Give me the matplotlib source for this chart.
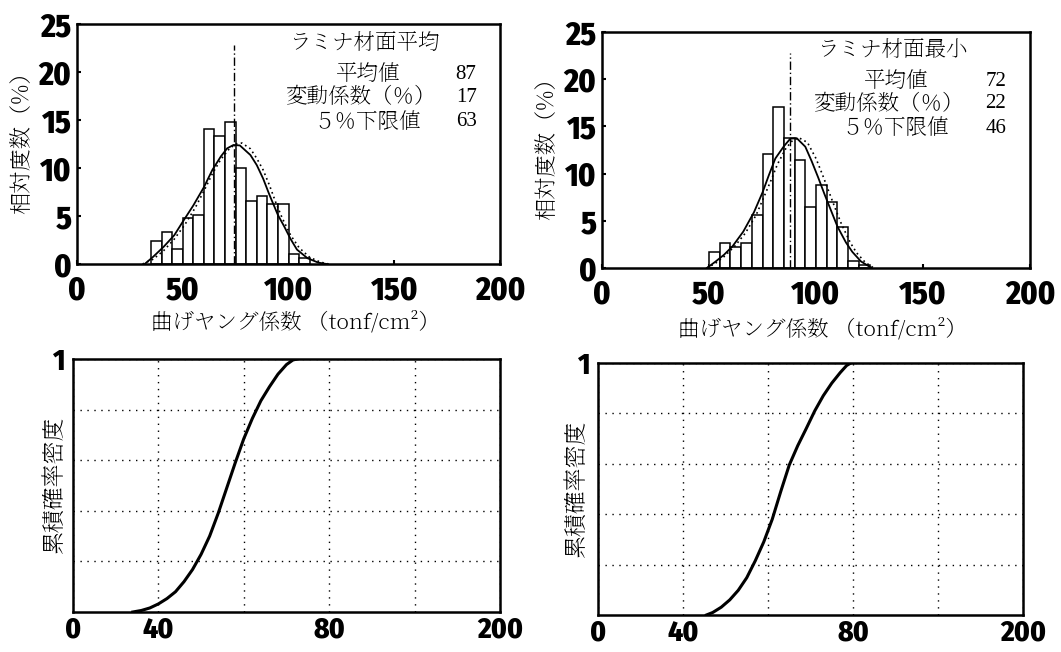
import matplotlib
matplotlib.use('Agg')
import matplotlib.pyplot as plt
from matplotlib import font_manager

# ---- data ----
# histogram: left edge of each 5-unit bin and relative frequency (%)
bins_mean = [35, 40, 45, 50, 55, 60, 65, 70, 75, 80, 85, 90, 95, 100, 105]
freq_mean = [2.4, 3.3, 1.6, 4.75, 5.1, 14.1, 13.3, 14.75, 10.0, 6.55, 7.1, 6.3, 6.3, 1.0, 0.6]
bins_min = [50, 55, 60, 65, 70, 75, 80, 85, 90, 95, 100, 105, 110, 115, 120]
freq_min = [1.7, 2.7, 2.2, 2.6, 5.6, 12.1, 17.1, 13.8, 11.4, 6.5, 8.8, 7.0, 4.3, 0.7, 0.3]

# fitted curves (solid and dotted)
fit_mean_x = [32, 36, 41, 46, 50, 55, 60, 64, 68, 71, 74, 77, 82, 85, 88, 91, 95, 98, 101, 104, 109, 114, 118]
fit_mean_y = [0, 0.75, 1.8, 3.0, 4.4, 6.1, 8.0, 9.8, 11.2, 12.05, 12.4, 12.35, 11.35, 10.3, 8.9, 7.2, 5.1, 3.9, 2.6, 1.5, 0.6, 0.15, 0]
dot_mean_x = [31, 36, 41, 46, 51, 56, 60, 64, 68, 72, 75, 78, 82, 85, 88, 91, 94, 97, 101, 105, 110, 115, 119]
dot_mean_y = [0, 0.5, 1.4, 2.6, 4.1, 5.9, 7.6, 9.4, 10.9, 12.0, 12.5, 12.6, 12.0, 11.0, 9.8, 8.2, 6.4, 4.8, 3.0, 1.7, 0.7, 0.2, 0]
fit_min_x = [49, 53, 57, 61, 66, 71, 75, 78, 81, 85, 88, 91, 95, 98, 101, 104, 107, 110, 114, 117, 121, 126]
fit_min_y = [0, 0.67, 1.4, 2.3, 3.85, 5.9, 8.0, 9.85, 11.6, 12.9, 13.7, 13.75, 12.85, 11.3, 9.6, 7.8, 6.1, 4.4, 2.7, 1.7, 0.7, 0]
dot_min_x = [49, 53, 57, 62, 67, 72, 76, 79, 82, 86, 89, 92, 96, 100, 103, 106, 109, 112, 116, 119, 123, 127]
dot_min_y = [0, 0.5, 1.2, 2.3, 3.7, 5.6, 7.7, 9.3, 11.0, 12.7, 13.5, 13.8, 13.3, 11.6, 9.9, 8.1, 6.3, 4.6, 2.7, 1.6, 0.6, 0]

# mean line position
mean_line = [74, 88]

# cumulative curves
cdf_mean_x = [28, 32, 36, 40, 44, 48, 52, 56, 60, 64, 68, 72, 76, 80, 84, 88, 92, 96, 100, 103, 105]
cdf_mean_y = [0, 0.006, 0.016, 0.032, 0.053, 0.08, 0.12, 0.168, 0.228, 0.30, 0.39, 0.49, 0.59, 0.685,
              0.765, 0.835, 0.89, 0.94, 0.978, 0.996, 1.0]
cdf_min_x = [51, 54, 58, 62, 66, 70, 74, 78, 82, 86, 90, 94, 98, 102, 106, 110, 114, 117, 119]
cdf_min_y = [0, 0.01, 0.031, 0.06, 0.098, 0.148, 0.215, 0.29, 0.38, 0.49, 0.595, 0.672, 0.74, 0.81,
             0.87, 0.92, 0.962, 0.99, 1.0]

# text
titles = ['ラミナ材面平均', 'ラミナ材面最小']
stat_names = ['平均値', '変動係数（％）', '５％下限値']
stat_values = [['87', '17', '63'], ['72', '22', '46']]
hist_ticks = [0, 50, 100, 150, 200]
hist_yticks = [0, 5, 10, 15, 20, 25]
cdf_ticks = [0, 40, 80, 120, 160, 200]
cdf_ticklabels = ['0', '40', '', '80', '', '200']
cdf_yticks = [0.2, 0.4, 0.6, 0.8, 1.0]
cdf_yticklabels = ['', '', '', '', '1']

W, H = 1061, 652

installed = {f.name for f in font_manager.fontManager.ttflist}


def pick(prefs):
    found = [p for p in prefs if p in installed]
    return found[:1] + ['DejaVu Sans']


JP = pick(['Noto Serif JP', 'Noto Serif CJK JP', 'Shippori Mincho', 'Zen Old Mincho',
           'Sawarabi Mincho', 'Noto Sans CJK JP'])
NUM = pick(['Fira Sans Condensed', 'Liberation Sans Narrow', 'Roboto Condensed', 'Oswald'])
SERIF = pick(['Liberation Serif', 'DejaVu Serif'])


def frac(x0, y0, x1, y1):
    # pixel box (top-left origin) -> figure fraction rect
    return [x0 / W, 1 - y1 / H, (x1 - x0) / W, (y1 - y0) / H]


def style_ticks(ax, size):
    for lbl in ax.get_xticklabels() + ax.get_yticklabels():
        lbl.set_fontfamily(NUM)
        lbl.set_fontweight(800)
        lbl.set_fontsize(size)


def histogram(ax, bins, freq, fx, fy, dx, dy, m, title, values, ylab_x, xlab_y):
    ax.bar(bins, freq, width=5, align='edge', facecolor='white', edgecolor='black', linewidth=1.1, zorder=2)
    ax.plot(fx, fy, color='black', linewidth=1.3, zorder=3)
    ax.plot(dx, dy, color='black', linewidth=1.2, linestyle=(0, (1, 2)), zorder=3)
    ax.plot([m, m], [0, 22.8], color='black', linewidth=1.0, linestyle=(0, (6, 2, 1, 2)), zorder=4)
    ax.set_xlim(0, 200)
    ax.set_ylim(0, 25)
    ax.set_xticks(hist_ticks)
    ax.set_yticks(hist_yticks)
    ax.tick_params(direction='in', length=3, width=1.5, pad=4)
    ax.tick_params(axis='x', pad=8)
    style_ticks(ax, 23)
    for s in ax.spines.values():
        s.set_linewidth(1.8)

    ax.text(0.502, 0.922, title, transform=ax.transAxes, ha='left', va='center',
            fontsize=15.5, family=JP)
    ys = [0.79, 0.695, 0.592]
    xs = [0.686, 0.670, 0.686]
    for name, val, y, x in zip(stat_names, values, ys, xs):
        ax.text(x, y, name, transform=ax.transAxes, ha='center', va='center', fontsize=15.5, family=JP)
        ax.text(0.92, y, val, transform=ax.transAxes, ha='center', va='center',
                fontsize=15, family=SERIF)

    ax.text(ylab_x, 0.53, '相対度数（%）', transform=ax.transAxes, rotation=90,
            ha='center', va='center', fontsize=16, family=JP)
    ax.text(0.516, xlab_y, '曲げヤング係数 （tonf/cm²）', transform=ax.transAxes,
            ha='center', va='center', fontsize=15.5, family=JP)


def cumulative(ax, cx, cy, ylab_x):
    ax.plot(cx, cy, color='black', linewidth=2.2, zorder=3)
    ax.set_xlim(0, 200)
    ax.set_ylim(0, 1)
    ax.set_xticks(cdf_ticks)
    ax.set_xticklabels(cdf_ticklabels)
    ax.set_yticks(cdf_yticks)
    ax.set_yticklabels(cdf_yticklabels)
    ax.grid(True, color='black', linewidth=1.0, linestyle=(0, (1, 4)))
    ax.tick_params(length=0, pad=6)
    ax.tick_params(axis='x', pad=3)
    style_ticks(ax, 21)
    for s in ax.spines.values():
        s.set_linewidth(1.8)
    ax.text(ylab_x, 0.5, '累積確率密度', transform=ax.transAxes, rotation=90,
            ha='center', va='center', fontsize=16.5, family=JP)


fig = plt.figure(figsize=(W / 100, H / 100), dpi=100)
fig.patch.set_facecolor('white')

ax1 = fig.add_axes(frac(77, 24, 500, 264))
ax2 = fig.add_axes(frac(602, 32, 1030, 268))
ax3 = fig.add_axes(frac(73, 359, 500, 612))
ax4 = fig.add_axes(frac(598, 363, 1023, 615))

histogram(ax1, bins_mean, freq_mean, fit_mean_x, fit_mean_y, dot_mean_x, dot_mean_y,
          mean_line[0], titles[0], stat_values[0], -0.130, -0.242)
histogram(ax2, bins_min, freq_min, fit_min_x, fit_min_y, dot_min_x, dot_min_y,
          mean_line[1], titles[1], stat_values[1], -0.1285, -0.258)
cumulative(ax3, cdf_mean_x, cdf_mean_y, -0.042)
cumulative(ax4, cdf_min_x, cdf_min_y, -0.049)

fig.savefig('out.png', dpi=100)
plt.close(fig)
